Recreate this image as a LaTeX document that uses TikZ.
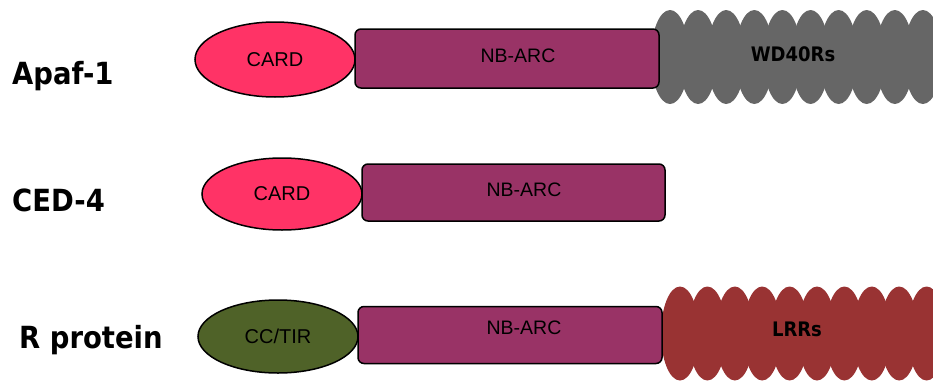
\documentclass[tikz,border=0pt]{standalone}
\usepackage{fontspec}
\setmainfont{Liberation Sans}
\newfontfamily\labfont[FakeStretch=0.9]{DejaVu Sans}
\usetikzlibrary{shapes.geometric}
\definecolor{cardc}{HTML}{FF3366}
\definecolor{nbc}{HTML}{993366}
\definecolor{wdc}{HTML}{666666}
\definecolor{lrrc}{HTML}{993333}
\definecolor{ccc}{HTML}{4F6228}
\begin{document}
\begin{tikzpicture}[x=1pt,y=-1pt,
  dom/.style={ellipse, draw=black, line width=1.5pt, minimum width=160pt, minimum height=74pt, inner sep=0pt, font=\fontsize{20}{22}\selectfont},
  nbarc/.style={rectangle, rounded corners=6pt, draw=black, line width=1.5pt, fill=nbc, minimum width=304pt, minimum height=58pt, inner sep=0pt},
  boxtext/.style={font=\fontsize{19.5}{22}\selectfont},
  rep/.style={ellipse, minimum width=38pt, minimum height=94pt, inner sep=0pt},
  replab/.style={font=\labfont\bfseries\fontsize{20}{24}\selectfont},
  lab/.style={font=\labfont\bfseries\fontsize{30.5}{36}\selectfont, anchor=base west, inner sep=0pt}]
\useasboundingbox (0,0) rectangle (933,383);
% repeat domains (behind the boxes)
\foreach \i in {0,...,9} {
  \node[rep, fill=wdc] (wd\i) at ({670+28.1*\i},57) {};
  \node[rep, fill=lrrc] (lrr\i) at ({680+27.4*\i},333.5) {};
}
\node[replab] (wdlab) at (793,54) {WD40Rs};
\node[replab] (lrrlab) at (797,329) {LRRs};
% row 1: Apaf-1
\node[lab] (apaf) at (12,84) {Apaf-1};
\node[dom, fill=cardc, minimum height=75pt] (card1) at (275,59.5) {CARD};
\node[nbarc, minimum height=59pt] (nb1) at (507,58.5) {};
\node[boxtext] (nb1t) at (518,56) {NB-ARC};
% row 2: CED-4
\node[lab] (ced) at (12,211) {CED-4};
\node[dom, fill=cardc, minimum height=72pt] (card2) at (282,194) {CARD};
\node[nbarc, minimum width=303pt, minimum height=57pt] (nb2) at (513.5,192.5) {};
\node[boxtext] (nb2t) at (524,190) {NB-ARC};
% row 3: R protein
\node[lab] (rprot) at (19,348) {R protein};
\node[dom, fill=ccc, minimum height=73pt] (cc3) at (278,336.5) {CC/TIR};
\node[nbarc, minimum height=57pt] (nb3) at (510,335) {};
\node[boxtext] (nb3t) at (524,328) {NB-ARC};
\end{tikzpicture}
\end{document}
